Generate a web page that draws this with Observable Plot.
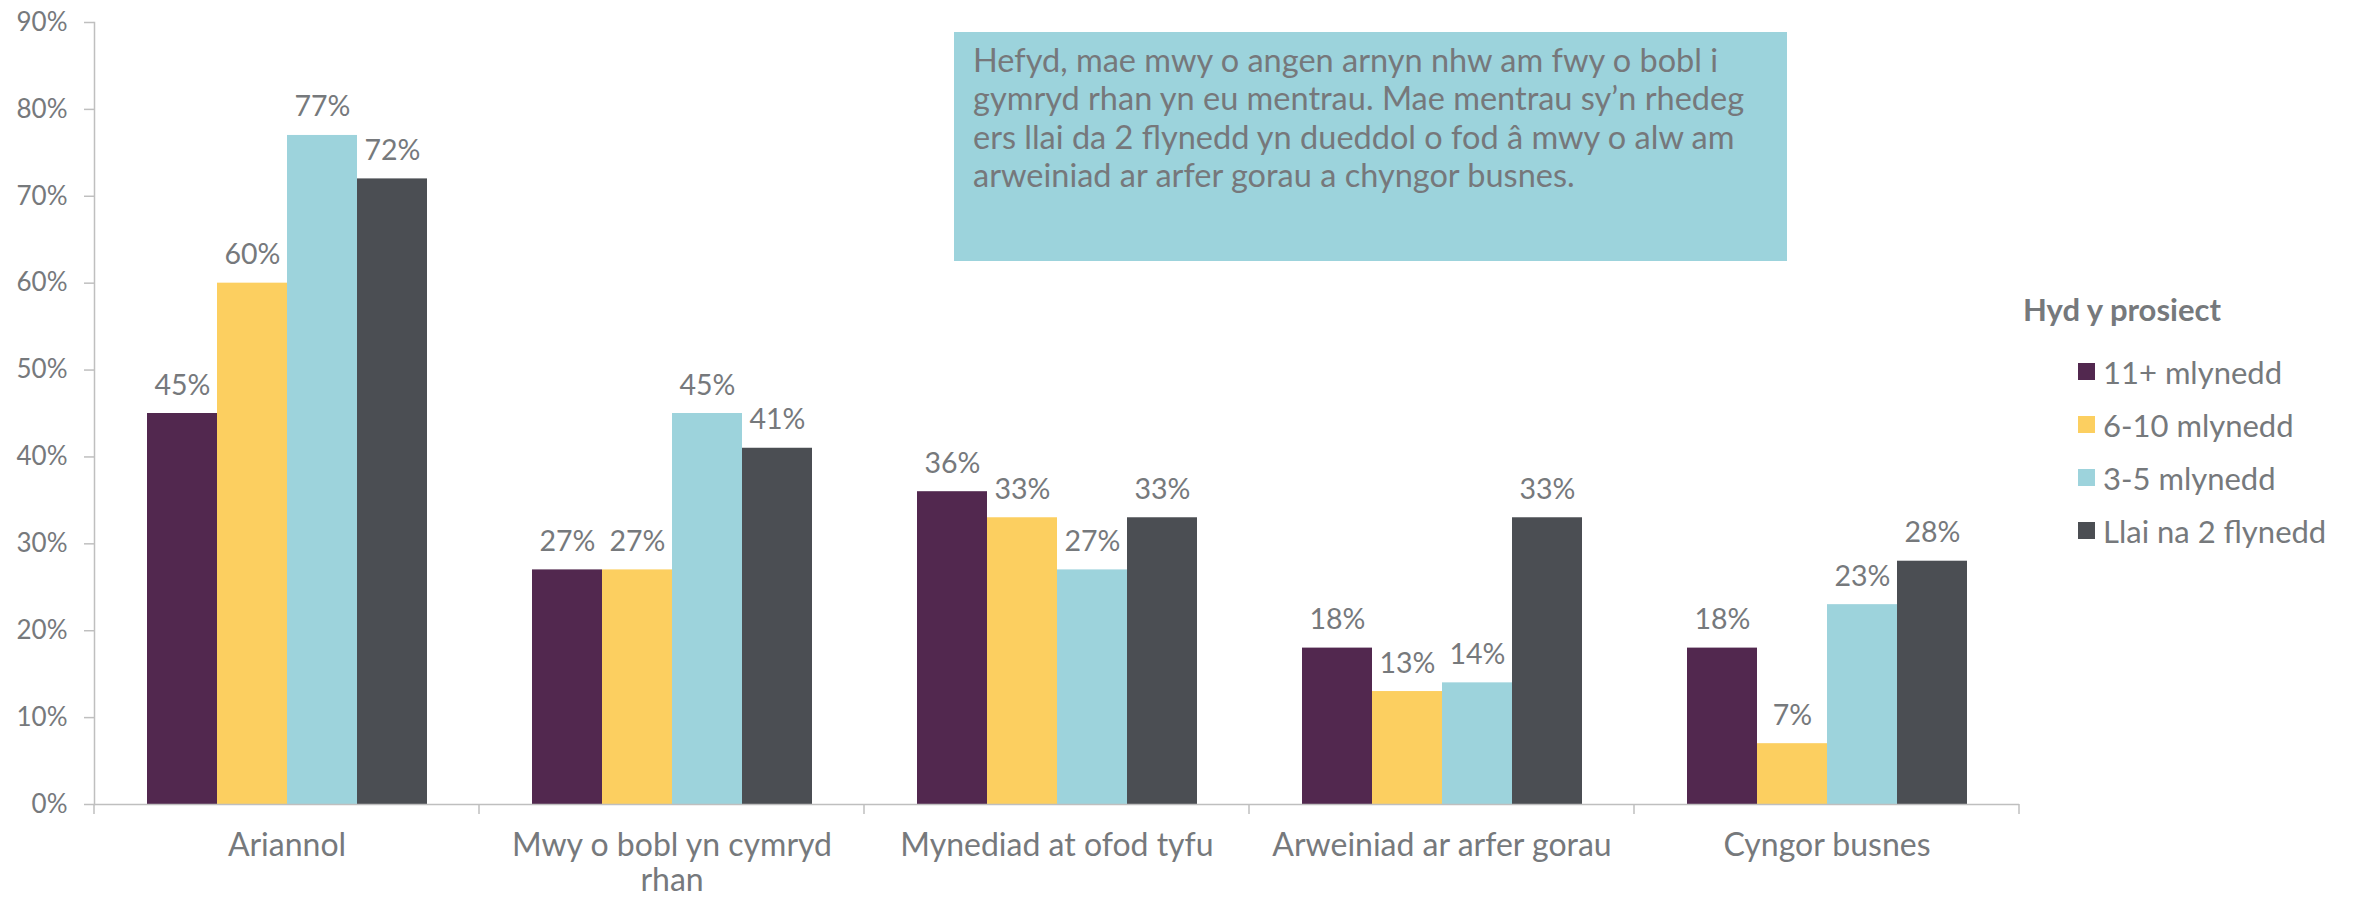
<!DOCTYPE html>
<html>
<head>
<meta charset="utf-8">
<script src="https://cdn.jsdelivr.net/npm/d3@7"></script>
<script src="https://cdn.jsdelivr.net/npm/@observablehq/plot@0.6"></script>
<style>
  html, body { margin: 0; padding: 0; background: #fff; }
  #wrap { position: relative; width: 2359px; height: 898px; overflow: hidden; font-family: Lato, sans-serif; background: #fff; }
  #note { position: absolute; left: 954px; top: 32px; width: 833px; height: 229px; box-sizing: border-box;
          padding: 9px 0 0 19px; background: #9cd3dc; color: #76787b; font-family: Lato, sans-serif;
          font-size: 32.5px; line-height: 38.3px; white-space: nowrap; }
  #legendTitle { position: absolute; left: 2023px; top: 291px; font-family: Lato, sans-serif; font-weight: 700;
                 font-size: 31px; line-height: 37px; color: #76797c; white-space: nowrap; }
  .hyd-swatches { position: absolute; left: 2078px; top: 345px; margin: 0; font-family: Lato, sans-serif;
                  font-size: 31px; color: #76797c; }
  .hyd-swatches .hyd-swatch { height: 53px; padding: 0; margin: 0; display: flex; align-items: center; }
  .hyd-swatches .hyd-swatch > svg { margin-right: 8px; }
  .hyd-swatches .hyd-swatch-label { line-height: normal; }
</style>
</head>
<body>
<div id="wrap"></div>
<script>
// ---- data ----
const categories = ["Ariannol", "Mwy o bobl yn cymryd rhan", "Mynediad at ofod tyfu", "Arweiniad ar arfer gorau", "Cyngor busnes"];
const categoryTickLabels = ["Ariannol", "Mwy o bobl yn cymryd\nrhan", "Mynediad at ofod tyfu", "Arweiniad ar arfer gorau", "Cyngor busnes"];
const series = ["11+ mlynedd", "6-10 mlynedd", "3-5 mlynedd", "Llai na 2 flynedd"];
const values11plus = [45, 27, 36, 18, 18];
const values6to10 = [60, 27, 33, 13, 7];
const values3to5 = [77, 45, 27, 14, 23];
const valuesUnder2 = [72, 41, 33, 33, 28];
const seriesColors = ["#52284f", "#fccf60", "#9dd3dc", "#4b4e53"];
const yTicks = [0, 10, 20, 30, 40, 50, 60, 70, 80, 90];
const legendTitle = "Hyd y prosiect";
const noteLines = [
  "Hefyd, mae mwy o angen arnyn nhw am fwy o bobl i",
  "gymryd rhan yn eu mentrau. Mae mentrau sy’n rhedeg",
  "ers llai da 2 flynedd yn dueddol o fod â mwy o alw am",
  "arweiniad ar arfer gorau a chyngor busnes."
];

// ---- table ----
const seriesValues = [values11plus, values6to10, values3to5, valuesUnder2];
const rows = [];
categories.forEach((c, i) => series.forEach((s, j) => rows.push({category: c, series: s, value: seriesValues[j][i]})));

const textGray = "#76797c";
const axisGray = "#bfbfbf";

const chart = Plot.plot({
  width: 2359,
  height: 898,
  marginLeft: 93,
  marginRight: 340,
  marginTop: 22,
  marginBottom: 94,
  style: {fontFamily: "Lato, sans-serif", background: "#fff"},
  fx: {domain: categories, padding: 0, axis: null},
  x: {domain: series, paddingInner: 0, paddingOuter: 0.75, axis: null},
  y: {domain: [0, 90], axis: null},
  color: {domain: series, range: seriesColors},
  marks: [
    Plot.barY(rows, {fx: "category", x: "series", y: "value", fill: "series"}),
    Plot.ruleY([0], {stroke: axisGray, strokeWidth: 1.5}),
    Plot.frame({anchor: "left", facetAnchor: "left", stroke: axisGray, strokeWidth: 1.5}),
    Plot.axisY({ticks: yTicks, tickFormat: d => d + "%", tickSize: 10, tickPadding: 17,
                stroke: axisGray, strokeWidth: 1.5, fill: textGray, fontSize: 26, label: null}),
    Plot.axisFx({anchor: "bottom", tickSize: 0, tickPadding: 27, fontSize: 32, fill: textGray,
                 lineHeight: 1.08, label: null,
                 tickFormat: d => categoryTickLabels[categories.indexOf(d)]}),
    Plot.text(rows, {fx: "category", x: "series", y: "value", text: d => d.value + "%",
                     dy: -19, lineAnchor: "bottom", fontSize: 28.5, fill: textGray})
  ]
});

// category boundary ticks, placed with Plot's fx and y scales
const fxScale = chart.scale("fx");
const yScale = chart.scale("y");
const edges = categories.map(c => fxScale.apply(c));
edges.push(fxScale.apply(categories[categories.length - 1]) + fxScale.bandwidth);
const y0 = yScale.apply(0);
d3.select(chart).append("g")
  .attr("stroke", axisGray).attr("stroke-width", 1.5)
  .selectAll("line").data(edges).join("line")
  .attr("x1", d => d).attr("x2", d => d)
  .attr("y1", y0).attr("y2", y0 + 10);

const wrap = document.getElementById("wrap");
wrap.appendChild(chart);

const note = document.createElement("div");
note.id = "note";
note.innerHTML = noteLines.map(l => l.replace(/&/g, "&amp;").replace(/</g, "&lt;")).join("<br>");
wrap.appendChild(note);

const lt = document.createElement("div");
lt.id = "legendTitle";
lt.textContent = legendTitle;
wrap.appendChild(lt);

const legend = chart.legend("color", {columns: 1, swatchSize: 17, className: "hyd"});
wrap.appendChild(legend);
</script>
</body>
</html>
